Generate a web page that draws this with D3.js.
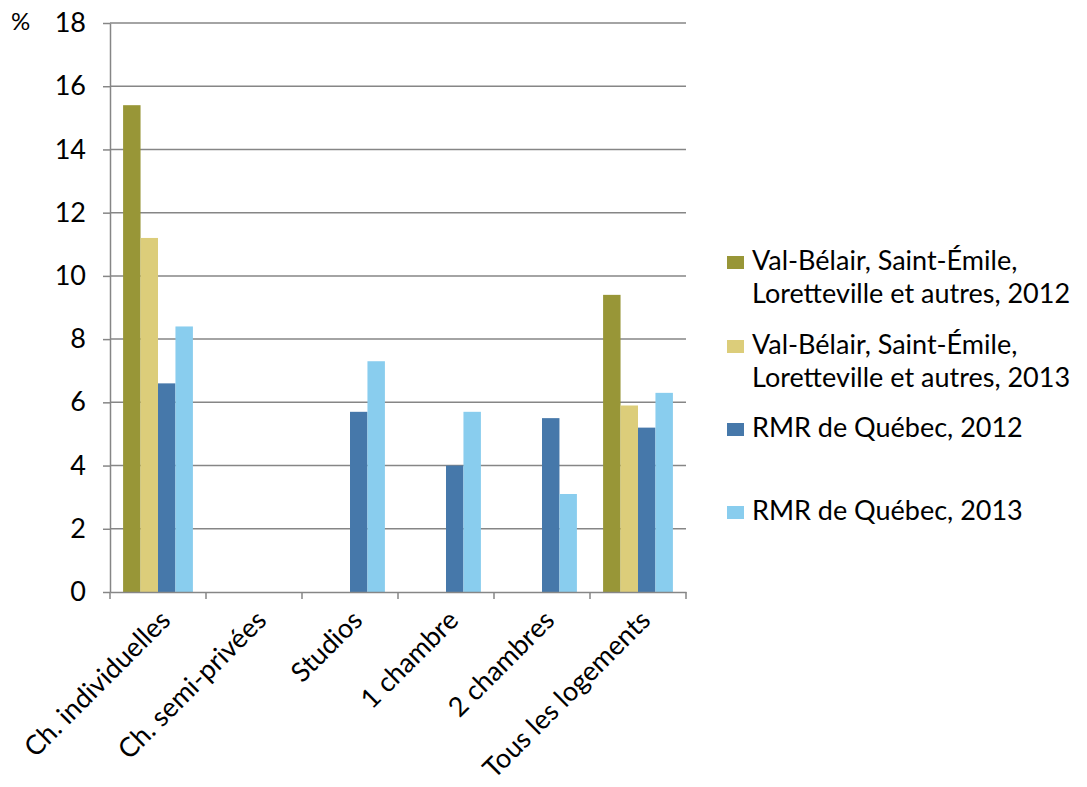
<!DOCTYPE html>
<html>
<head>
<meta charset="utf-8">
<script src="https://cdn.jsdelivr.net/npm/d3@7"></script>
<style>
  html, body { margin: 0; padding: 0; background: #fff; }
  svg text { font-family: Lato, "Noto Sans", sans-serif; fill: #000; }
</style>
</head>
<body>
<svg id="chart" width="1087" height="787"></svg>
<script>
const categories = ["Ch. individuelles", "Ch. semi-privées", "Studios", "1 chambre", "2 chambres", "Tous les logements"];
const seriesNames = [
  ["Val-Bélair, Saint-Émile,", "Loretteville et autres, 2012"],
  ["Val-Bélair, Saint-Émile,", "Loretteville et autres, 2013"],
  ["RMR de Québec, 2012"],
  ["RMR de Québec, 2013"]
];
const valBelair2012 = [15.4, null, null, null, null, 9.4];
const valBelair2013 = [11.2, null, null, null, null, 5.9];
const rmr2012 = [6.6, null, 5.7, 4.0, 5.5, 5.2];
const rmr2013 = [8.4, null, 7.3, 5.7, 3.1, 6.3];
const yTicks = [0, 2, 4, 6, 8, 10, 12, 14, 16, 18];
const colors = ["#989637", "#dccd7a", "#4678aa", "#89cdee"];

const seriesValues = [valBelair2012, valBelair2013, rmr2012, rmr2013];

const svg = d3.select("#chart");
const pLeft = 110, pRight = 686, pTop = 23, pBottom = 592;
const fontSize = 27;

const x0 = d3.scaleBand().domain(categories).range([pLeft, pRight]).paddingInner(0).paddingOuter(0);
const x1 = d3.scaleBand().domain(d3.range(seriesValues.length)).range([0, x0.bandwidth()]).paddingInner(0).paddingOuter(0.75);
const y = d3.scaleLinear().domain([0, 18]).range([pBottom, pTop]);

const grey = "#868686";

// gridlines
svg.append("g").selectAll("line").data(yTicks.filter(d => d > 0)).join("line")
  .attr("x1", pLeft).attr("x2", pRight)
  .attr("y1", d => y(d)).attr("y2", d => y(d))
  .attr("stroke", grey).attr("stroke-width", 1.5);

// bars
const groups = svg.append("g").selectAll("g").data(categories).join("g")
  .attr("transform", d => `translate(${x0(d)},0)`);
groups.selectAll("rect")
  .data((c, ci) => seriesValues.map((s, si) => ({ si, v: s[ci] })).filter(d => d.v != null))
  .join("rect")
  .attr("x", d => x1(d.si))
  .attr("width", x1.bandwidth())
  .attr("y", d => y(d.v))
  .attr("height", d => y(0) - y(d.v))
  .attr("fill", d => colors[d.si]);

// y axis
const yAxis = svg.append("g").attr("transform", `translate(${pLeft},0)`)
  .call(d3.axisLeft(y).tickValues(yTicks).tickSize(7).tickSizeOuter(0).tickPadding(17));
yAxis.select(".domain").attr("stroke", grey).attr("stroke-width", 1.5);
yAxis.selectAll(".tick line").attr("stroke", grey).attr("stroke-width", 1.5);
yAxis.selectAll(".tick text").attr("font-size", fontSize).attr("font-family", "Lato, 'Noto Sans', sans-serif");

// x axis
const xAxis = svg.append("g").attr("transform", `translate(0,${pBottom})`)
  .call(d3.axisBottom(x0).tickSize(0).tickSizeOuter(0).tickFormat(""));
xAxis.select(".domain").attr("stroke", grey).attr("stroke-width", 1.5);
xAxis.selectAll(".tick").remove();
const sep = [...categories.map(c => x0(c)), pRight];
svg.append("g").selectAll("line").data(sep).join("line")
  .attr("x1", d => d).attr("x2", d => d)
  .attr("y1", pBottom).attr("y2", pBottom + 7)
  .attr("stroke", grey).attr("stroke-width", 1.5);

svg.append("g").selectAll("text").data(categories).join("text")
  .attr("transform", d => `translate(${x0(d) + x0.bandwidth() / 2 + 14},${pBottom + 30}) rotate(-45)`)
  .attr("text-anchor", "end")
  .attr("font-size", fontSize)
  .text(d => d);

// % label
svg.append("text").attr("x", 11).attr("y", 30).attr("font-size", 24).text("%");

// legend
const legendBase = [270, 354, 437, 520];
const leg = svg.append("g").selectAll("g").data(seriesNames).join("g")
  .attr("transform", (d, i) => `translate(727,${legendBase[i]})`);
leg.append("rect").attr("y", -14).attr("width", 17).attr("height", 13).attr("fill", (d, i) => colors[i]);
leg.each(function(lines) {
  const t = d3.select(this).append("text").attr("x", 25).attr("y", 0).attr("font-size", fontSize);
  lines.forEach((ln, k) => t.append("tspan").attr("x", 25).attr("dy", k === 0 ? 0 : 33).text(ln));
});
</script>
</body>
</html>
